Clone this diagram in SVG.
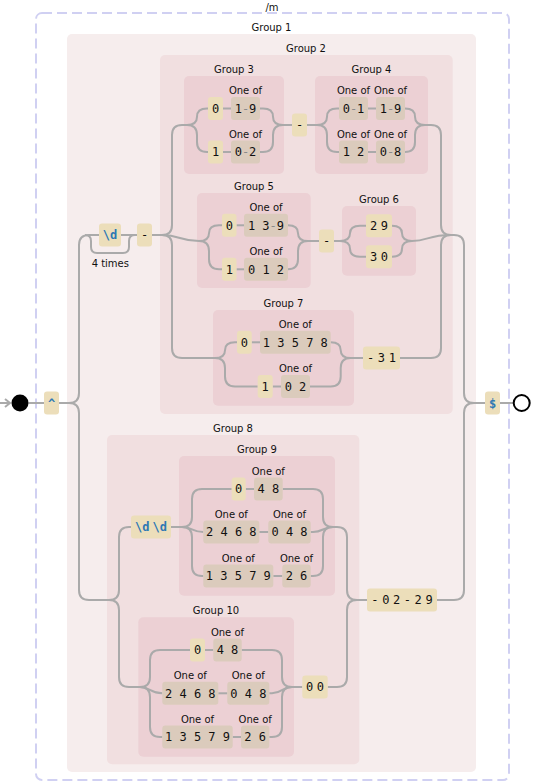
<svg xmlns="http://www.w3.org/2000/svg" width="533" height="782" viewBox="0 0 533 782">
<style>
.bg{fill:#ffffff}
.outer{fill:none;stroke:#d0d0f2;stroke-width:2;stroke-dasharray:10,5}
.g1{fill:#f6eded}
.g2{fill:#f1dfe0}
.g3{fill:#ecd0d4}
.lit{fill:#ecdeba}
.cs{fill:#dbcbbc}
.lbl{font-family:"DejaVu Sans",Verdana,sans-serif;font-size:10px;fill:#111;text-anchor:middle}
.t{font-family:"DejaVu Sans Mono","Liberation Mono",monospace;font-size:12px;fill:#111;text-anchor:middle}
.ls{letter-spacing:3.6px}
.esc{font-family:"DejaVu Sans Mono","Liberation Mono",monospace;font-size:12px;font-weight:bold;fill:#2d78b4;text-anchor:middle}
.r{fill:#8a8a8a}
.c path{fill:none;stroke:#aaaaaa;stroke-width:2}
</style>
<rect class="bg" x="0" y="0" width="533" height="782"/>
<g id="outer">
<rect class="outer" x="36" y="13" width="473" height="767" rx="6"/>
<text class="lbl" x="272" y="11">/m</text>
</g>
<g id="group1"><rect class="g1" x="67" y="34" width="409" height="738" rx="5"/><text class="lbl" x="271.5" y="31">Group 1</text></g>
<g id="group2"><rect class="g2" x="160" y="55" width="292.7" height="359" rx="5"/><text class="lbl" x="306" y="52">Group 2</text></g>
<g id="group3"><rect class="g3" x="184" y="76" width="100" height="98" rx="5"/><text class="lbl" x="234" y="73">Group 3</text></g>
<g id="group4"><rect class="g3" x="315" y="76" width="113" height="98" rx="5"/><text class="lbl" x="371.5" y="73">Group 4</text></g>
<g id="group5"><rect class="g3" x="197" y="193" width="113.7" height="95" rx="5"/><text class="lbl" x="254" y="190">Group 5</text></g>
<g id="group6"><rect class="g3" x="342" y="206" width="74" height="69.7" rx="5"/><text class="lbl" x="379" y="203">Group 6</text></g>
<g id="group7"><rect class="g3" x="213" y="310" width="141" height="95.7" rx="5"/><text class="lbl" x="283.5" y="307">Group 7</text></g>
<g id="group8"><rect class="g2" x="107" y="435" width="252.3" height="329.3" rx="5"/><text class="lbl" x="233" y="432">Group 8</text></g>
<g id="group9"><rect class="g3" x="179" y="456" width="156" height="139.7" rx="5"/><text class="lbl" x="257" y="453">Group 9</text></g>
<g id="group10"><rect class="g3" x="138.3" y="617.3" width="155.7" height="139.4" rx="5"/><text class="lbl" x="216" y="614">Group 10</text></g>

<g class="c" id="connectors">
<path d="M0,403 H10"/>
<path d="M5,399 L10,403 L5,407" />
<path d="M28.5,403 H44"/>
<path d="M59,403 H69 q10,0 10,-10 V245 q0,-10 10,-10 H99"/>
<path d="M69,403 q10,0 10,10 V590 q0,10 10,10 H109"/>
<path d="M85,235 q6,0 6,6 v6 q0,6 6,6 h26 q6,0 6,-6 v-6 q0,-6 6,-6"/>
<path d="M121,235 H137"/>
<path d="M152,235 H162 q10,0 10,-10 V135 q0,-10 10,-10 H187"/>
<path d="M162,235 C180,235 180,241 199,241"/>
<path d="M162,235 q10,0 10,10 V348 q0,10 10,10 H215"/>
<path d="M187,125 q10,0 10,-8.25 q0,-8.25 10,-8.25 H208"/>
<path d="M187,125 q10,0 10,10 V142 q0,10 10,10 H208"/>
<path d="M223,108.5 H231"/>
<path d="M223,152 H231"/>
<path d="M260,108.5 H263 q10,0 10,8.25 q0,8.25 10,8.25 H292"/>
<path d="M260,152 H263 q10,0 10,-10 V135 q0,-10 10,-10"/>
<path d="M307,125 H317 q10,0 10,-8.25 q0,-8.25 10,-8.25 H339"/>
<path d="M317,125 q10,0 10,10 V142 q0,10 10,10 H339"/>
<path d="M368,108.5 H376"/>
<path d="M368,152 H376"/>
<path d="M405,108.5 q10,0 10,8.25 q0,8.25 10,8.25 H431 q10,0 10,10 V225 q0,10 10,10 H454 q10,0 10,10 V393 q0,10 10,10 H485"/>
<path d="M405,152 q10,0 10,-10 V135 q0,-10 10,-10"/>
<path d="M199,241 q10,0 10,-7.85 q0,-7.85 10,-7.85 H222"/>
<path d="M199,241 q10,0 10,10 V259.3 q0,10 10,10 H222"/>
<path d="M236.5,225.3 H244"/>
<path d="M236.5,269.3 H244"/>
<path d="M288,225.3 q10,0 10,7.85 q0,7.85 10,7.85 H319"/>
<path d="M288,269.3 q10,0 10,-10 V251 q0,-10 10,-10"/>
<path d="M334,241 H340 q10,0 10,-7.65 q0,-7.65 10,-7.65 H366"/>
<path d="M340,241 q10,0 10,7.85 q0,7.85 10,7.85 H366"/>
<path d="M392,225.7 q10,0 10,7.65 q0,7.65 10,7.65 C428,241 428,235 451,235"/>
<path d="M392,256.7 q10,0 10,-7.85 q0,-7.85 10,-7.85"/>
<path d="M215,358 q10,0 10,-7.85 q0,-7.85 10,-7.85 H237"/>
<path d="M215,358 q10,0 10,10 V376.5 q0,10 10,10 H257.7"/>
<path d="M251.7,342.3 H260"/>
<path d="M272.7,386.5 H281"/>
<path d="M330.7,342.3 q10,0 10,7.85 q0,7.85 10,7.85 H363"/>
<path d="M310,386.5 H330.7 q10,0 10,-10 V368 q0,-10 10,-10"/>
<path d="M400,358 H431 q10,0 10,-10 V245 q0,-10 10,-10"/>
<path d="M109,600 q10,0 10,-10 V537 q0,-10 10,-10 H131"/>
<path d="M109,600 q10,0 10,10 V677 q0,10 10,10 H140"/>
<path d="M171,527 H182 q10,0 10,-10 V499 q0,-10 10,-10 H231.7"/>
<path d="M182,527 C192,527 192,532 203.3,532"/>
<path d="M182,527 q10,0 10,10 V566 q0,10 10,10 H203.3"/>
<path d="M245.7,489 H254"/>
<path d="M259.3,532 H268.3"/>
<path d="M273.3,576 H282.3"/>
<path d="M282.7,489 H313 q10,0 10,10 V517 q0,10 10,10 H337 q10,0 10,10 V590 q0,10 10,10 H367"/>
<path d="M310.7,532 H313 C323,532 323,527 333,527"/>
<path d="M310.7,576 H313 q10,0 10,-10 V537 q0,-10 10,-10"/>
<path d="M437,600 H454 q10,0 10,-10 V413 q0,-10 10,-10"/>
<path d="M140,687 q10,0 10,-10 V660 q0,-10 10,-10 H190"/>
<path d="M140,687 C150,687 150,693.3 162.3,693.3"/>
<path d="M140,687 q10,0 10,10 V727 q0,10 10,10 H162.3"/>
<path d="M205,650 H213.3"/>
<path d="M218.3,693.3 H227.3"/>
<path d="M232.7,737 H241"/>
<path d="M241.7,650 H272 q10,0 10,10 V677 q0,10 10,10 H302.3"/>
<path d="M269.3,693.3 H272 C282,693.3 282,687 292,687"/>
<path d="M269.3,737 H272 q10,0 10,-10 V697 q0,-10 10,-10"/>
<path d="M327.7,687 H337 q10,0 10,-10 V610 q0,-10 10,-10"/>
<path d="M500,403 H513.7"/>
</g>

<g id="start"><circle cx="20" cy="403" r="8.5" fill="#000"/></g>
<g id="end"><circle cx="521.7" cy="403" r="8" fill="#fff" stroke="#000" stroke-width="2"/></g>

<g id="caret"><rect class="lit" x="44" y="391.5" width="15" height="23" rx="3"/><text class="esc" x="51.5" y="407.5">^</text></g>
<g id="dollar"><rect class="lit" x="485" y="391.5" width="15" height="23" rx="3"/><text class="esc" x="492.5" y="407.5">$</text></g>

<g id="digit4"><rect class="lit" x="99" y="223.5" width="22" height="23" rx="3"/><text class="esc" x="110" y="239.3">\d</text><text class="lbl" x="110.3" y="267">4 times</text></g>
<g id="dash1"><rect class="lit" x="137" y="223.5" width="15" height="23" rx="3"/><text class="t" x="144.5" y="239.3">-</text></g>

<g id="g3a0"><rect class="lit" x="208" y="97" width="15" height="23" rx="3"/><text class="t" x="215.5" y="112.8">0</text></g>
<g id="g3a1"><rect class="cs" x="231" y="97" width="29" height="23" rx="3"/><text class="t" x="245.5" y="112.8">1<tspan class="r">-</tspan>9</text><text class="lbl" x="245.5" y="94">One of</text></g>
<g id="g3b0"><rect class="lit" x="208" y="140.5" width="15" height="23" rx="3"/><text class="t" x="215.5" y="156.3">1</text></g>
<g id="g3b1"><rect class="cs" x="231" y="140.5" width="29" height="23" rx="3"/><text class="t" x="245.5" y="156.3">0<tspan class="r">-</tspan>2</text><text class="lbl" x="245.5" y="137.5">One of</text></g>
<g id="dash2"><rect class="lit" x="292" y="113.5" width="15" height="23" rx="3"/><text class="t" x="299.5" y="129.3">-</text></g>
<g id="g4a0"><rect class="cs" x="339" y="97" width="29" height="23" rx="3"/><text class="t" x="353.5" y="112.8">0<tspan class="r">-</tspan>1</text><text class="lbl" x="353.5" y="94">One of</text></g>
<g id="g4a1"><rect class="cs" x="376" y="97" width="29" height="23" rx="3"/><text class="t" x="390.5" y="112.8">1<tspan class="r">-</tspan>9</text><text class="lbl" x="390.5" y="94">One of</text></g>
<g id="g4b0"><rect class="cs" x="339" y="140.5" width="29" height="23" rx="3"/><text class="t" x="353.5" y="156.3">1 2</text><text class="lbl" x="353.5" y="137.5">One of</text></g>
<g id="g4b1"><rect class="cs" x="376" y="140.5" width="29" height="23" rx="3"/><text class="t" x="390.5" y="156.3">0<tspan class="r">-</tspan>8</text><text class="lbl" x="390.5" y="137.5">One of</text></g>

<g id="g5a0"><rect class="lit" x="222" y="213.8" width="14.5" height="23" rx="3"/><text class="t" x="229.3" y="229.6">0</text></g>
<g id="g5a1"><rect class="cs" x="244" y="213.8" width="44" height="23" rx="3"/><text class="t" x="266" y="229.6">1 3<tspan class="r">-</tspan>9</text><text class="lbl" x="266" y="210.8">One of</text></g>
<g id="g5b0"><rect class="lit" x="222" y="257.8" width="14.5" height="23" rx="3"/><text class="t" x="229.3" y="273.6">1</text></g>
<g id="g5b1"><rect class="cs" x="244" y="257.8" width="44" height="23" rx="3"/><text class="t" x="266" y="273.6">0 1 2</text><text class="lbl" x="266" y="254.8">One of</text></g>
<g id="dash3"><rect class="lit" x="319" y="229.5" width="15" height="23" rx="3"/><text class="t" x="326.5" y="245.3">-</text></g>
<g id="g6a"><rect class="lit" x="366" y="214.2" width="26" height="23" rx="3"/><text class="t ls" x="380.8" y="230">29</text></g>
<g id="g6b"><rect class="lit" x="366" y="245.2" width="26" height="23" rx="3"/><text class="t ls" x="380.8" y="261">30</text></g>

<g id="g7a0"><rect class="lit" x="237" y="330.8" width="14.7" height="23" rx="3"/><text class="t" x="244.3" y="346.6">0</text></g>
<g id="g7a1"><rect class="cs" x="260" y="330.8" width="70.7" height="23" rx="3"/><text class="t" x="295.3" y="346.6">1 3 5 7 8</text><text class="lbl" x="295.3" y="327.8">One of</text></g>
<g id="g7b0"><rect class="lit" x="257.7" y="375" width="15" height="23" rx="3"/><text class="t" x="265.2" y="390.8">1</text></g>
<g id="g7b1"><rect class="cs" x="281" y="375" width="29" height="23" rx="3"/><text class="t" x="295.5" y="390.8">0 2</text><text class="lbl" x="295.5" y="372">One of</text></g>
<g id="dash31"><rect class="lit" x="363" y="346.5" width="37" height="23" rx="3"/><text class="t ls" x="383.3" y="362.3">-31</text></g>

<g id="dd"><rect class="lit" x="131" y="515.5" width="40" height="23" rx="3"/><text class="esc" x="151" y="531.3">\d<tspan dx="3">\d</tspan></text></g>
<g id="g9a0"><rect class="lit" x="231.7" y="477.5" width="14" height="23" rx="3"/><text class="t" x="238.7" y="493.3">0</text></g>
<g id="g9a1"><rect class="cs" x="254" y="477.5" width="28.7" height="23" rx="3"/><text class="t" x="268.3" y="493.3">4 8</text><text class="lbl" x="268.3" y="474.5">One of</text></g>
<g id="g9b0"><rect class="cs" x="203.3" y="520.5" width="56" height="23" rx="3"/><text class="t" x="231.3" y="536.3">2 4 6 8</text><text class="lbl" x="231.3" y="517.5">One of</text></g>
<g id="g9b1"><rect class="cs" x="268.3" y="520.5" width="42.4" height="23" rx="3"/><text class="t" x="289.5" y="536.3">0 4 8</text><text class="lbl" x="289.5" y="517.5">One of</text></g>
<g id="g9c0"><rect class="cs" x="203.3" y="564.5" width="70" height="23" rx="3"/><text class="t" x="238.3" y="580.3">1 3 5 7 9</text><text class="lbl" x="238.3" y="561.5">One of</text></g>
<g id="g9c1"><rect class="cs" x="282.3" y="564.5" width="28.4" height="23" rx="3"/><text class="t" x="296.5" y="580.3">2 6</text><text class="lbl" x="296.5" y="561.5">One of</text></g>

<g id="g10a0"><rect class="lit" x="190" y="638.5" width="15" height="23" rx="3"/><text class="t" x="197.5" y="654.3">0</text></g>
<g id="g10a1"><rect class="cs" x="213.3" y="638.5" width="28.4" height="23" rx="3"/><text class="t" x="227.5" y="654.3">4 8</text><text class="lbl" x="227.5" y="635.5">One of</text></g>
<g id="g10b0"><rect class="cs" x="162.3" y="681.8" width="56" height="23" rx="3"/><text class="t" x="190.3" y="697.6">2 4 6 8</text><text class="lbl" x="190.3" y="678.8">One of</text></g>
<g id="g10b1"><rect class="cs" x="227.3" y="681.8" width="42" height="23" rx="3"/><text class="t" x="248.3" y="697.6">0 4 8</text><text class="lbl" x="248.3" y="678.8">One of</text></g>
<g id="g10c0"><rect class="cs" x="162.3" y="725.5" width="70.4" height="23" rx="3"/><text class="t" x="197.5" y="741.3">1 3 5 7 9</text><text class="lbl" x="197.5" y="722.5">One of</text></g>
<g id="g10c1"><rect class="cs" x="241" y="725.5" width="28.3" height="23" rx="3"/><text class="t" x="255.2" y="741.3">2 6</text><text class="lbl" x="255.2" y="722.5">One of</text></g>
<g id="zz"><rect class="lit" x="302.3" y="675.5" width="25.4" height="23" rx="3"/><text class="t ls" x="316.8" y="691.3">00</text></g>
<g id="feb29"><rect class="lit" x="367" y="588.5" width="70" height="23" rx="3"/><text class="t ls" x="403.8" y="604.3">-02-29</text></g>
</svg>
